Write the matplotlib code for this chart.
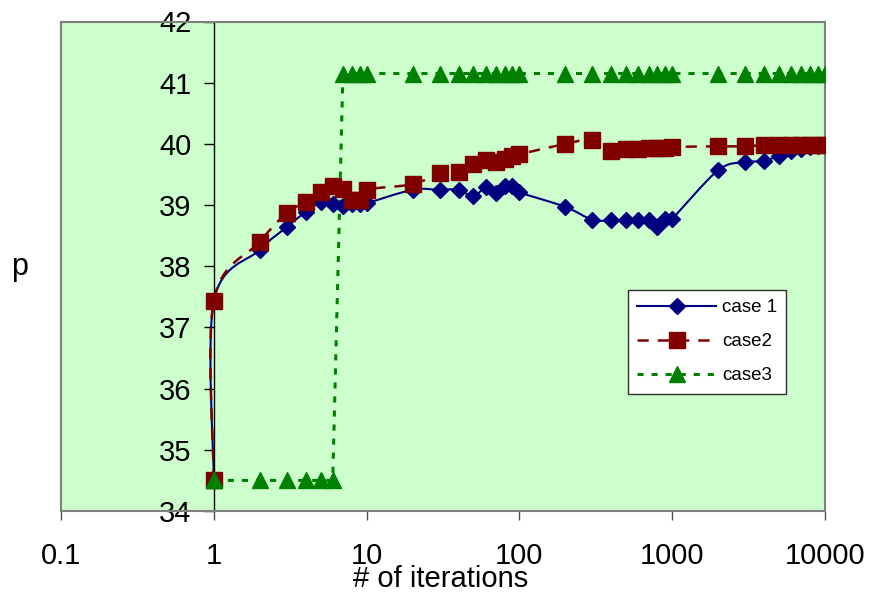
import numpy as np
import matplotlib
matplotlib.use('Agg')
import matplotlib.pyplot as plt
from matplotlib.path import Path
from matplotlib.patches import PathPatch
from matplotlib.lines import Line2D

plt.rcParams['font.family'] = ['Liberation Sans', 'DejaVu Sans']

# iteration counts (1 appears twice: start value and value after the first iteration)
iters = [1, 1, 2, 3, 4, 5, 6, 7, 8, 9, 10, 20, 30, 40, 50, 60, 70, 80, 90, 100,
         200, 300, 400, 500, 600, 700, 800, 900, 1000,
         2000, 3000, 4000, 5000, 6000, 7000, 8000, 9000, 10000]

case1 = [34.5, 37.43, 38.27, 38.64, 38.89, 39.05, 39.01, 38.98, 39.02, 39.02, 39.03,
         39.25, 39.25, 39.25, 39.14, 39.29, 39.20, 39.31, 39.31, 39.21,
         38.97, 38.76, 38.75, 38.75, 38.75, 38.76, 38.64, 38.77, 38.78,
         39.57, 39.70, 39.72, 39.81, 39.88, 39.92, 39.95, 39.97, 39.98]

case2 = [34.5, 37.44, 38.40, 38.87, 39.05, 39.22, 39.31, 39.27, 39.09, 39.08, 39.25,
         39.34, 39.52, 39.54, 39.67, 39.73, 39.70, 39.76, 39.80, 39.83,
         40.00, 40.07, 39.88, 39.91, 39.92, 39.93, 39.94, 39.94, 39.95,
         39.96, 39.96, 39.98, 39.98, 39.98, 39.98, 39.98, 39.98, 39.98]

case3 = [34.5, 34.5, 34.5, 34.5, 34.5, 34.5, 34.5, 41.15, 41.15, 41.15, 41.15,
         41.15, 41.15, 41.15, 41.15, 41.15, 41.15, 41.15, 41.15, 41.15,
         41.15, 41.15, 41.15, 41.15, 41.15, 41.15, 41.15, 41.15, 41.15,
         41.15, 41.15, 41.15, 41.15, 41.15, 41.15, 41.15, 41.15, 41.15]

series_names = ['case 1', 'case2', 'case3']
xticks = [0.1, 1, 10, 100, 1000, 10000]
xtick_labels = ['0.1', '1', '10', '100', '1000', '10000']
yticks = [34, 35, 36, 37, 38, 39, 40, 41, 42]

navy = '#000080'
maroon = '#800000'
green = '#008000'


def smooth_path(x, y):
    # spreadsheet-style smoothed line: cubic bezier through each point,
    # built in log-x space so the curve looks right on the log axis
    pts = np.column_stack([np.log10(x), np.asarray(y, dtype=float)])
    n = len(pts)
    verts = [pts[0]]
    codes = [Path.MOVETO]
    for i in range(n - 1):
        p0 = pts[max(i - 1, 0)]
        p1 = pts[i]
        p2 = pts[i + 1]
        p3 = pts[min(i + 2, n - 1)]
        verts += [p1 + (p2 - p0) / 6, p2 - (p3 - p1) / 6, p2]
        codes += [Path.CURVE4] * 3
    verts = np.array(verts)
    verts[:, 0] = 10 ** verts[:, 0]
    return Path(verts, codes)


fig = plt.figure(figsize=(8.72, 5.94), dpi=100)
ax = fig.add_axes([61 / 872, 1 - 511 / 594, 764 / 872, 489.5 / 594])
ax.set_facecolor('#CCFFCC')
ax.set_xscale('log')
ax.set_xlim(0.1, 10000)
ax.set_ylim(34, 42)

dash2 = (0, (4.5, 3.6))
dot3 = (0, (2, 2.6))

# lines first, markers on top
ax.add_patch(PathPatch(smooth_path(iters, case1), fill=False, edgecolor=navy, lw=1.5, zorder=2))
ax.add_patch(PathPatch(smooth_path(iters, case2), fill=False, edgecolor=maroon, lw=1.8,
                       linestyle=dash2, zorder=2))
ax.plot(iters, case3, color=green, lw=2.2, linestyle=dot3, zorder=2)

ax.plot(iters, case1, ls='none', marker='D', ms=8, color=navy, mec=navy, zorder=3)
ax.plot(iters, case2, ls='none', marker='s', ms=11, color=maroon, mec=maroon, zorder=3)
ax.plot(iters, case3, ls='none', marker='^', ms=11, color=green, mec=green, zorder=3)

# frame: gray box, black value axis at x = 1
for side in ['top', 'right', 'bottom']:
    ax.spines[side].set_color('#808080')
    ax.spines[side].set_linewidth(1.5)
ax.spines['left'].set_position(('data', 1))
ax.spines['left'].set_color('black')
ax.spines['left'].set_linewidth(1)
ax.axvline(0.1, color='#808080', lw=1.5, clip_on=False, zorder=2.5)

ax.set_xticks(xticks)
ax.set_xticklabels(xtick_labels)
ax.set_yticks(yticks)
ax.set_yticklabels([str(t) for t in yticks])
ax.minorticks_off()
ax.tick_params(axis='y', direction='out', length=7, width=1, color='black', pad=9, labelsize=21)
ax.tick_params(axis='x', direction='out', length=6.5, width=1, color='#505050', pad=16, labelsize=21)

fig.text(20 / 872, 1 - 275 / 594, 'p', fontsize=22, ha='center', va='baseline')
fig.text(441 / 872, 1 - 587 / 594, '# of iterations', fontsize=21, ha='center', va='baseline')

handles = [
    Line2D([], [], color=navy, lw=1.5, marker='D', ms=8),
    Line2D([], [], color=maroon, lw=1.8, linestyle=dash2, marker='s', ms=11),
    Line2D([], [], color=green, lw=2.2, linestyle=dot3, marker='^', ms=11),
]
leg = ax.legend(handles, series_names, loc='upper left',
                bbox_to_anchor=(628 / 872, 1 - 290 / 594), bbox_transform=fig.transFigure,
                borderaxespad=0, fontsize=13.5, frameon=True, fancybox=False, framealpha=1,
                edgecolor='#303030', borderpad=0.5, handlelength=4.2, handletextpad=0.3,
                labelspacing=0.9, numpoints=1)
leg.get_frame().set_linewidth(1)

fig.savefig('out.png', dpi=100)
